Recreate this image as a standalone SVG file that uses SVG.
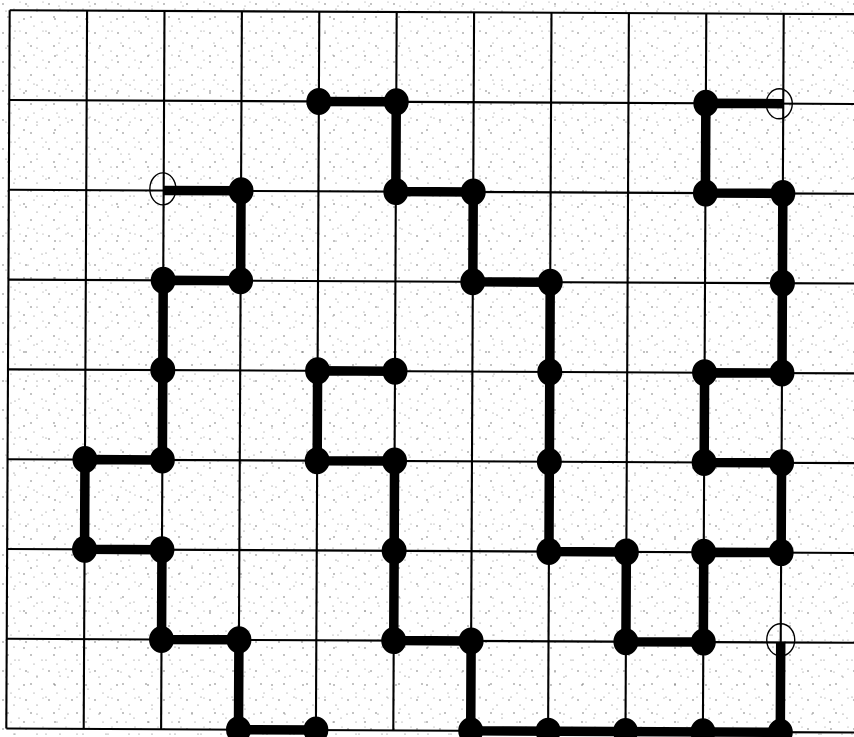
<svg xmlns="http://www.w3.org/2000/svg" width="854" height="737" viewBox="0 0 854 737">
<style>
.grid line{stroke:#000;stroke-width:2.1}
.conn polyline{fill:none;stroke:#000;stroke-width:9.5;stroke-linejoin:round;stroke-linecap:butt}
.dot{fill:#000}
.open{fill:none;stroke:#000;stroke-width:1.4}
</style>
<defs>
<pattern id="st1" width="23" height="29" patternUnits="userSpaceOnUse">
<circle cx="3" cy="4" r="0.7" fill="#555"/><circle cx="14" cy="9" r="0.6" fill="#666"/><circle cx="8" cy="17" r="0.7" fill="#555"/><circle cx="19" cy="22" r="0.6" fill="#777"/><circle cx="11" cy="26" r="0.5" fill="#666"/><circle cx="20" cy="2" r="0.5" fill="#777"/>
</pattern>
<pattern id="st2" width="31" height="37" patternUnits="userSpaceOnUse">
<circle cx="6" cy="11" r="0.6" fill="#666"/><circle cx="24" cy="19" r="0.7" fill="#555"/><circle cx="15" cy="31" r="0.6" fill="#777"/><circle cx="28" cy="6" r="0.5" fill="#666"/>
</pattern>
</defs>
<rect width="854" height="737" fill="#fff"/>
<rect width="854" height="737" fill="url(#st1)"/>
<rect width="854" height="737" fill="url(#st2)"/>
<g transform="rotate(0.27 395 370)">
<g class="grid">
<line x1="8" y1="12" x2="870" y2="12"/>
<line x1="8" y1="101.8" x2="870" y2="101.8"/>
<line x1="8" y1="191.6" x2="870" y2="191.6"/>
<line x1="8" y1="281.4" x2="870" y2="281.4"/>
<line x1="8" y1="371.2" x2="870" y2="371.2"/>
<line x1="8" y1="461" x2="870" y2="461"/>
<line x1="8" y1="550.8" x2="870" y2="550.8"/>
<line x1="8" y1="640.6" x2="870" y2="640.6"/>
<line x1="8" y1="730.4" x2="870" y2="730.4"/>
<line x1="8" y1="12" x2="8" y2="730.4"/>
<line x1="85.4" y1="12" x2="85.4" y2="730.4"/>
<line x1="162.8" y1="12" x2="162.8" y2="730.4"/>
<line x1="240.2" y1="12" x2="240.2" y2="730.4"/>
<line x1="317.6" y1="12" x2="317.6" y2="730.4"/>
<line x1="395" y1="12" x2="395" y2="730.4"/>
<line x1="472.4" y1="12" x2="472.4" y2="730.4"/>
<line x1="549.8" y1="12" x2="549.8" y2="730.4"/>
<line x1="627.2" y1="12" x2="627.2" y2="730.4"/>
<line x1="704.6" y1="12" x2="704.6" y2="730.4"/>
<line x1="782" y1="12" x2="782" y2="730.4"/>
</g>
<g id="connectors" class="conn">
<polyline points="162.8,191.6 240.2,191.6 240.2,281.4 162.8,281.4 162.8,461 85.4,461 85.4,550.8 162.8,550.8 162.8,640.6 240.2,640.6 240.2,730.4 317.6,730.4"/>
<polyline points="317.6,101.8 395,101.8 395,191.6 472.4,191.6 472.4,281.4 549.8,281.4 549.8,550.8 627.2,550.8 627.2,640.6 704.6,640.6 704.6,550.8 782,550.8 782,461 704.6,461 704.6,371.2 782,371.2 782,191.6 704.6,191.6 704.6,101.8 782,101.8"/>
<polyline points="782,640.6 782,730.4 472.4,730.4 472.4,640.6 395,640.6 395,461 317.6,461 317.6,371.2 395,371.2"/>
</g>
<g id="start-a"><ellipse class="open" cx="162" cy="190" rx="13" ry="16"/></g>
<g id="start-b"><ellipse class="open" cx="778" cy="102" rx="13" ry="15"/></g>
<g id="start-c"><ellipse class="open" cx="782" cy="638" rx="14" ry="16"/></g>
<g id="n-3-2"><ellipse class="dot" cx="240.2" cy="191.6" rx="12.5" ry="13.5"/></g>
<g id="n-3-3"><ellipse class="dot" cx="240.2" cy="281.4" rx="12.5" ry="13.5"/></g>
<g id="n-2-3"><ellipse class="dot" cx="162.8" cy="281.4" rx="12.5" ry="13.5"/></g>
<g id="n-2-4"><ellipse class="dot" cx="162.8" cy="371.2" rx="12.5" ry="13.5"/></g>
<g id="n-2-5"><ellipse class="dot" cx="162.8" cy="461" rx="12.5" ry="13.5"/></g>
<g id="n-1-5"><ellipse class="dot" cx="85.4" cy="461" rx="12.5" ry="13.5"/></g>
<g id="n-1-6"><ellipse class="dot" cx="85.4" cy="550.8" rx="12.5" ry="13.5"/></g>
<g id="n-2-6"><ellipse class="dot" cx="162.8" cy="550.8" rx="12.5" ry="13.5"/></g>
<g id="n-2-7"><ellipse class="dot" cx="162.8" cy="640.6" rx="12.5" ry="13.5"/></g>
<g id="n-3-7"><ellipse class="dot" cx="240.2" cy="640.6" rx="12.5" ry="13.5"/></g>
<g id="n-3-8"><ellipse class="dot" cx="240.2" cy="730.4" rx="12.5" ry="13.5"/></g>
<g id="n-4-8"><ellipse class="dot" cx="317.6" cy="730.4" rx="12.5" ry="13.5"/></g>
<g id="n-4-1"><ellipse class="dot" cx="317.6" cy="101.8" rx="12.5" ry="13.5"/></g>
<g id="n-5-1"><ellipse class="dot" cx="395" cy="101.8" rx="12.5" ry="13.5"/></g>
<g id="n-5-2"><ellipse class="dot" cx="395" cy="191.6" rx="12.5" ry="13.5"/></g>
<g id="n-6-2"><ellipse class="dot" cx="472.4" cy="191.6" rx="12.5" ry="13.5"/></g>
<g id="n-6-3"><ellipse class="dot" cx="472.4" cy="281.4" rx="12.5" ry="13.5"/></g>
<g id="n-7-3"><ellipse class="dot" cx="549.8" cy="281.4" rx="12.5" ry="13.5"/></g>
<g id="n-7-4"><ellipse class="dot" cx="549.8" cy="371.2" rx="12.5" ry="13.5"/></g>
<g id="n-7-5"><ellipse class="dot" cx="549.8" cy="461" rx="12.5" ry="13.5"/></g>
<g id="n-7-6"><ellipse class="dot" cx="549.8" cy="550.8" rx="12.5" ry="13.5"/></g>
<g id="n-8-6"><ellipse class="dot" cx="627.2" cy="550.8" rx="12.5" ry="13.5"/></g>
<g id="n-8-7"><ellipse class="dot" cx="627.2" cy="640.6" rx="12.5" ry="13.5"/></g>
<g id="n-9-7"><ellipse class="dot" cx="704.6" cy="640.6" rx="12.5" ry="13.5"/></g>
<g id="n-9-6"><ellipse class="dot" cx="704.6" cy="550.8" rx="12.5" ry="13.5"/></g>
<g id="n-10-6"><ellipse class="dot" cx="782" cy="550.8" rx="12.5" ry="13.5"/></g>
<g id="n-10-5"><ellipse class="dot" cx="782" cy="461" rx="12.5" ry="13.5"/></g>
<g id="n-9-5"><ellipse class="dot" cx="704.6" cy="461" rx="12.5" ry="13.5"/></g>
<g id="n-9-4"><ellipse class="dot" cx="704.6" cy="371.2" rx="12.5" ry="13.5"/></g>
<g id="n-10-4"><ellipse class="dot" cx="782" cy="371.2" rx="12.5" ry="13.5"/></g>
<g id="n-10-3"><ellipse class="dot" cx="782" cy="281.4" rx="12.5" ry="13.5"/></g>
<g id="n-10-2"><ellipse class="dot" cx="782" cy="191.6" rx="12.5" ry="13.5"/></g>
<g id="n-9-2"><ellipse class="dot" cx="704.6" cy="191.6" rx="12.5" ry="13.5"/></g>
<g id="n-9-1"><ellipse class="dot" cx="704.6" cy="101.8" rx="12.5" ry="13.5"/></g>
<g id="n-10-8"><ellipse class="dot" cx="782" cy="730.4" rx="12.5" ry="13.5"/></g>
<g id="n-9-8"><ellipse class="dot" cx="704.6" cy="730.4" rx="12.5" ry="13.5"/></g>
<g id="n-8-8"><ellipse class="dot" cx="627.2" cy="730.4" rx="12.5" ry="13.5"/></g>
<g id="n-7-8"><ellipse class="dot" cx="549.8" cy="730.4" rx="12.5" ry="13.5"/></g>
<g id="n-6-8"><ellipse class="dot" cx="472.4" cy="730.4" rx="12.5" ry="13.5"/></g>
<g id="n-6-7"><ellipse class="dot" cx="472.4" cy="640.6" rx="12.5" ry="13.5"/></g>
<g id="n-5-7"><ellipse class="dot" cx="395" cy="640.6" rx="12.5" ry="13.5"/></g>
<g id="n-5-6"><ellipse class="dot" cx="395" cy="550.8" rx="12.5" ry="13.5"/></g>
<g id="n-5-5"><ellipse class="dot" cx="395" cy="461" rx="12.5" ry="13.5"/></g>
<g id="n-4-5"><ellipse class="dot" cx="317.6" cy="461" rx="12.5" ry="13.5"/></g>
<g id="n-4-4"><ellipse class="dot" cx="317.6" cy="371.2" rx="12.5" ry="13.5"/></g>
<g id="n-5-4"><ellipse class="dot" cx="395" cy="371.2" rx="12.5" ry="13.5"/></g>
</g>
</svg>
